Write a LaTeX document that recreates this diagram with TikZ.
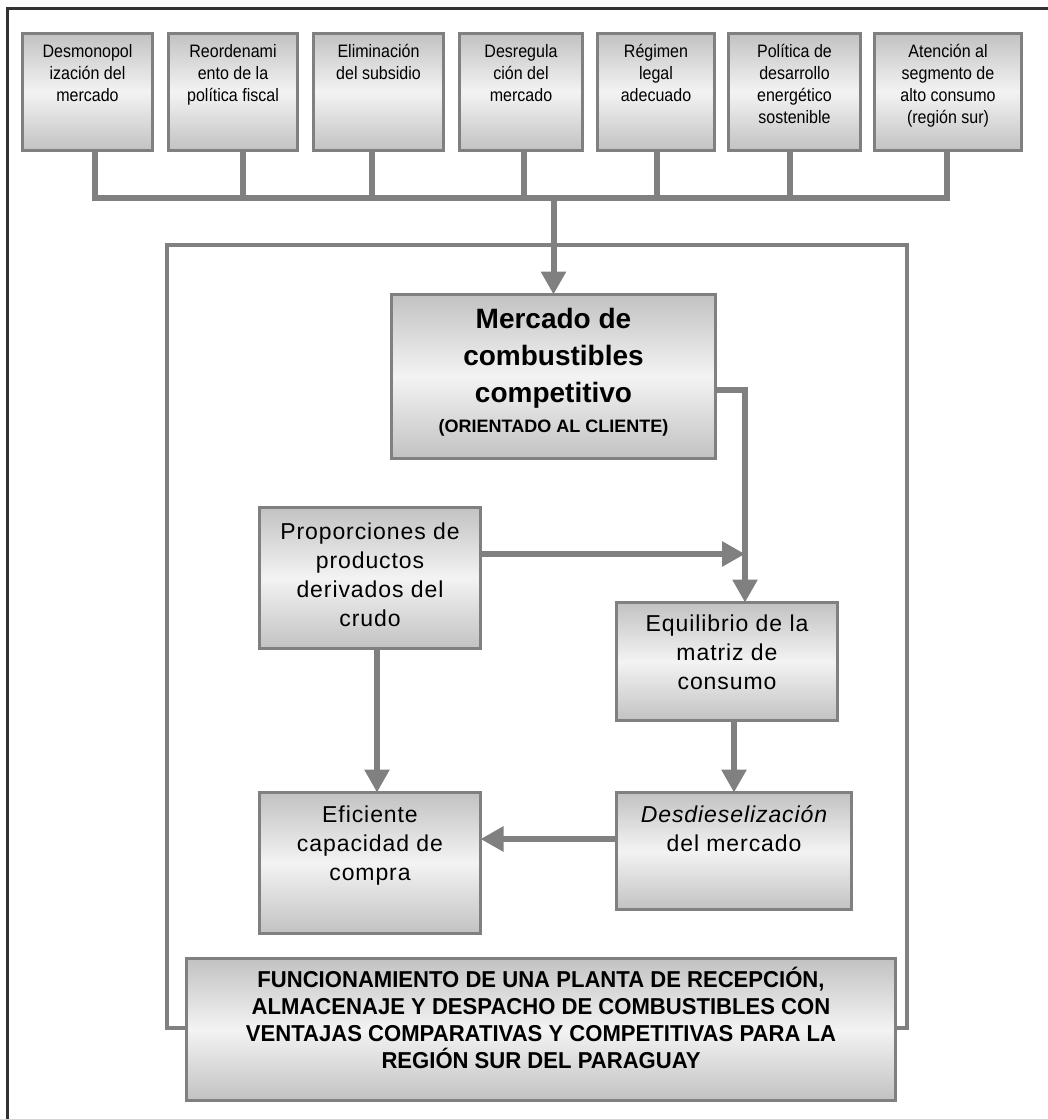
\documentclass[tikz,border=0pt]{standalone}
\usepackage{fontspec}
\setmainfont{Liberation Sans}
\newfontfamily\spaced[LetterSpace=4]{Liberation Sans}
\newfontfamily\narrow[FakeStretch=0.89]{Liberation Sans}
\newfontfamily\boldnarrow[FakeStretch=0.96]{Liberation Sans}
\usetikzlibrary{arrows.meta,calc}
\definecolor{ln}{RGB}{128,128,128}
\definecolor{framec}{RGB}{50,50,50}
\definecolor{shA}{RGB}{194,194,194}
\definecolor{shB}{RGB}{243,243,243}
\newcommand\bx[4]{\parbox[c][#2pt][t]{#1pt}{\centering\vspace*{#3pt}#4\par}}
\begin{document}
\begin{tikzpicture}[x=1pt,y=-1pt,
  box/.style={draw=ln, line width=3pt, top color=shA, bottom color=shA, middle color=shB, inner sep=0pt, outer sep=0pt},
  conn/.style={draw=ln, line width=6pt},
  arr/.style={conn, -{Triangle[width=24pt,length=23pt]}},
  topf/.style={font=\narrow\fontsize{18}{22}\selectfont},
  midf/.style={font=\spaced\fontsize{23}{29}\selectfont},
]
\useasboundingbox (0,0) rectangle (1048,1119);
\fill[white] (0,0) rectangle (1048,1119);
% outer frame (only top and left visible)
\draw[framec, line width=3pt] (7,1130) -- (7,8) -- (1060,8);
% inner frame
\draw[ln, line width=4pt] (167,245) rectangle (907,1028);

% top boxes
\node[box,topf] (b1) at (87.5,92) {\bx{130}{117}{11}{Desmonopol\\ización del\\mercado}};
\node[box,topf] (b2) at (233,92) {\bx{129}{117}{11}{Reordenami\\ento de la\\política fiscal}};
\node[box,topf] (b3) at (378.5,92) {\bx{130}{117}{11}{Eliminación\\del subsidio}};
\node[box,topf] (b4) at (521,92) {\bx{123}{117}{11}{Desregula\\ción del\\mercado}};
\node[box,topf] (b5) at (656,92) {\bx{117}{117}{11}{Régimen\\legal\\adecuado}};
\node[box,topf] (b6) at (794.5,92) {\bx{132}{117}{11}{Política de\\desarrollo\\energético\\sostenible}};
\node[box,topf] (b7) at (948,92) {\bx{147}{117}{11}{Atención al\\segmento de\\alto consumo\\(región sur)}};

\coordinate (bus) at (553,198);
\coordinate (s1) at ([xshift=7.5pt]b1.south);
\coordinate (s2) at ([xshift=10pt]b2.south);
\coordinate (s3) at ([xshift=-6.5pt]b3.south);
\coordinate (s4) at ([xshift=3pt]b4.south);
\coordinate (s5) at ([xshift=1pt]b5.south);
\coordinate (s6) at ([xshift=-4.5pt]b6.south);
\coordinate (s7) at ([xshift=-1pt]b7.south);
\draw[conn] (s1) -- (s1 |- bus) -- (s7 |- bus) -- (s7);
\foreach \s in {s2,s3,s4,s5,s6} \draw[conn] (\s) -- (\s |- bus);

% main box
\node[box] (main) at (553.5,376.5) {\bx{324}{164}{14}{{\bfseries\fontsize{28}{37}\selectfont Mercado de\\combustibles\\competitivo\par}{\bfseries\fontsize{18}{30}\selectfont (ORIENTADO AL CLIENTE)\par}}};
\draw[arr] (main.north |- bus) -- (main.north);

% middle boxes
\node[box,midf] (prop) at (370,578) {\bx{221}{141}{15}{Proporciones de\\productos\\derivados del\\crudo}};
\node[box,midf] (equi) at (727,661.5) {\bx{221}{118}{12}{Equilibrio de la\\matriz de\\consumo}};
\node[box,midf] (efic) at (370,863) {\bx{221}{141}{13}{Eficiente\\capacidad de\\compra}};
\node[box,midf] (desd) at (734,851) {\bx{235}{117}{13}{\itshape Desdieselización\\\upshape del mercado}};

% bottom box
\node[box] (bot) at (541,1029.5) {\bx{709}{142}{9}{\boldnarrow\bfseries\fontsize{23}{27}\selectfont FUNCIONAMIENTO DE UNA PLANTA DE RECEPCIÓN,\\ALMACENAJE Y DESPACHO DE COMBUSTIBLES CON\\VENTAJAS COMPARATIVAS Y COMPETITIVAS PARA LA\\REGIÓN SUR DEL PARAGUAY}};

% connectors
\coordinate (jn) at ([yshift=-13.5pt]main.east);
\coordinate (ja) at ([xshift=18pt]equi.north);
\draw[arr] (jn) -| (ja);
\coordinate (pa) at ([yshift=24pt]prop.east);
\draw[arr] (pa) -- (pa -| ja);
\coordinate (pb) at ([xshift=7pt]prop.south);
\coordinate (pc) at ([xshift=7pt]efic.north);
\draw[arr] (pb) -- (pc);
\draw[arr] (equi.south -| desd.north) -- (desd.north);
\coordinate (da) at ([yshift=12pt]desd.west);
\draw[arr] (da) -- (da -| efic.east);
\end{tikzpicture}
\end{document}
